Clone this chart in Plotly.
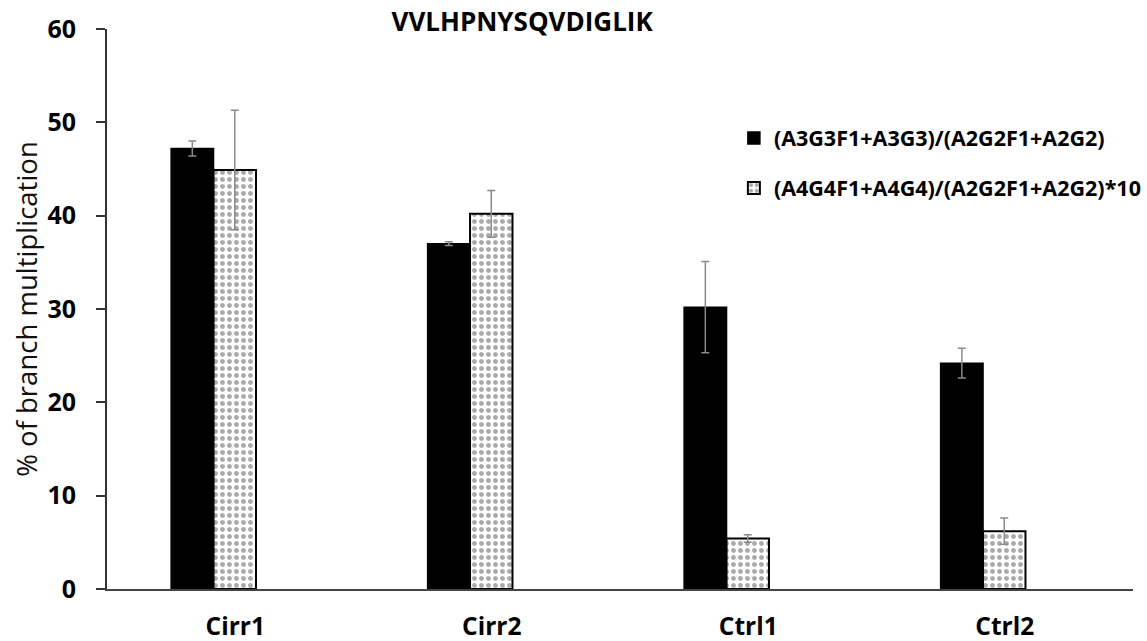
import plotly.graph_objects as go

categories = ["Cirr1", "Cirr2", "Ctrl1", "Ctrl2"]
series1_name = "(A3G3F1+A3G3)/(A2G2F1+A2G2)"
series1 = [47.2, 37.0, 30.2, 24.2]
series1_err = [0.8, 0.2, 4.9, 1.6]
series2_name = "(A4G4F1+A4G4)/(A2G2F1+A2G2)*10"
series2 = [44.9, 40.2, 5.4, 6.2]
series2_err = [6.4, 2.5, 0.4, 1.4]
y_ticks = [0, 10, 20, 30, 40, 50, 60]
title_text = "VVLHPNYSQVDIGLIK"
y_title = "% of branch multiplication"

FONT = "Open Sans"
W = 0.1654

fig = go.Figure()
fig.add_trace(go.Bar(
    x=categories, y=series1, name=series1_name,
    width=W, offset=-0.25,
    marker=dict(color="black", line=dict(color="black", width=1.5)),
    error_y=dict(type="data", array=series1_err, visible=True,
                 color="#8a8a8a", thickness=1.5, width=4),
    legendgroup="a",
))
fig.add_trace(go.Bar(
    x=categories, y=series2, name=series2_name,
    width=W, offset=-0.25 + W,
    marker=dict(color="white", line=dict(color="black", width=2),
                pattern=dict(shape=".", fgcolor="#555555", bgcolor="white",
                             size=7, solidity=0.4)),
    error_y=dict(type="data", array=series2_err, visible=True,
                 color="#8a8a8a", thickness=1.5, width=4),
    legendgroup="b",
))

fig.update_layout(
    width=1147, height=641,
    margin=dict(l=107, r=0, t=29, b=52),
    paper_bgcolor="white", plot_bgcolor="white",
    font=dict(family=FONT, color="black"),
    title=dict(text="<b>" + title_text + "</b>", x=0.4046, xref="paper",
               xanchor="center", y=1 - 22 / 641, yanchor="middle",
               font=dict(size=26, family=FONT, color="black")),
    showlegend=True,
    legend=dict(x=0.611, y=0.842, xanchor="left", yanchor="top",
                font=dict(size=21.5, family=FONT, color="black", weight="bold"),
                tracegroupgap=19, traceorder="grouped", itemwidth=30,
                bgcolor="rgba(0,0,0,0)"),
    bargap=0.5,
)
fig.update_xaxes(
    type="category", range=[-0.5, 3.5],
    showline=True, linecolor="#444", linewidth=2,
    ticks="", showgrid=False, zeroline=False, automargin=False,
    tickfont=dict(size=24.5, family=FONT, color="black", weight="bold"),
    ticklabelstandoff=15,
)
fig.update_yaxes(
    range=[0, 60], tickvals=y_ticks,
    showline=True, linecolor="#333", linewidth=2,
    ticks="outside", ticklen=9, tickwidth=2, tickcolor="#333",
    showgrid=False, zeroline=False, automargin=False,
    tickfont=dict(size=25, family=FONT, color="black", weight="bold"),
    ticklabelstandoff=15,
    title=dict(text=y_title, standoff=2,
               font=dict(size=27.5, family=FONT, color="#111111")),
)

fig.write_html("out.html", config={"displayModeBar": False},
               post_script="document.body.style.margin='0';document.body.style.padding='0';")
